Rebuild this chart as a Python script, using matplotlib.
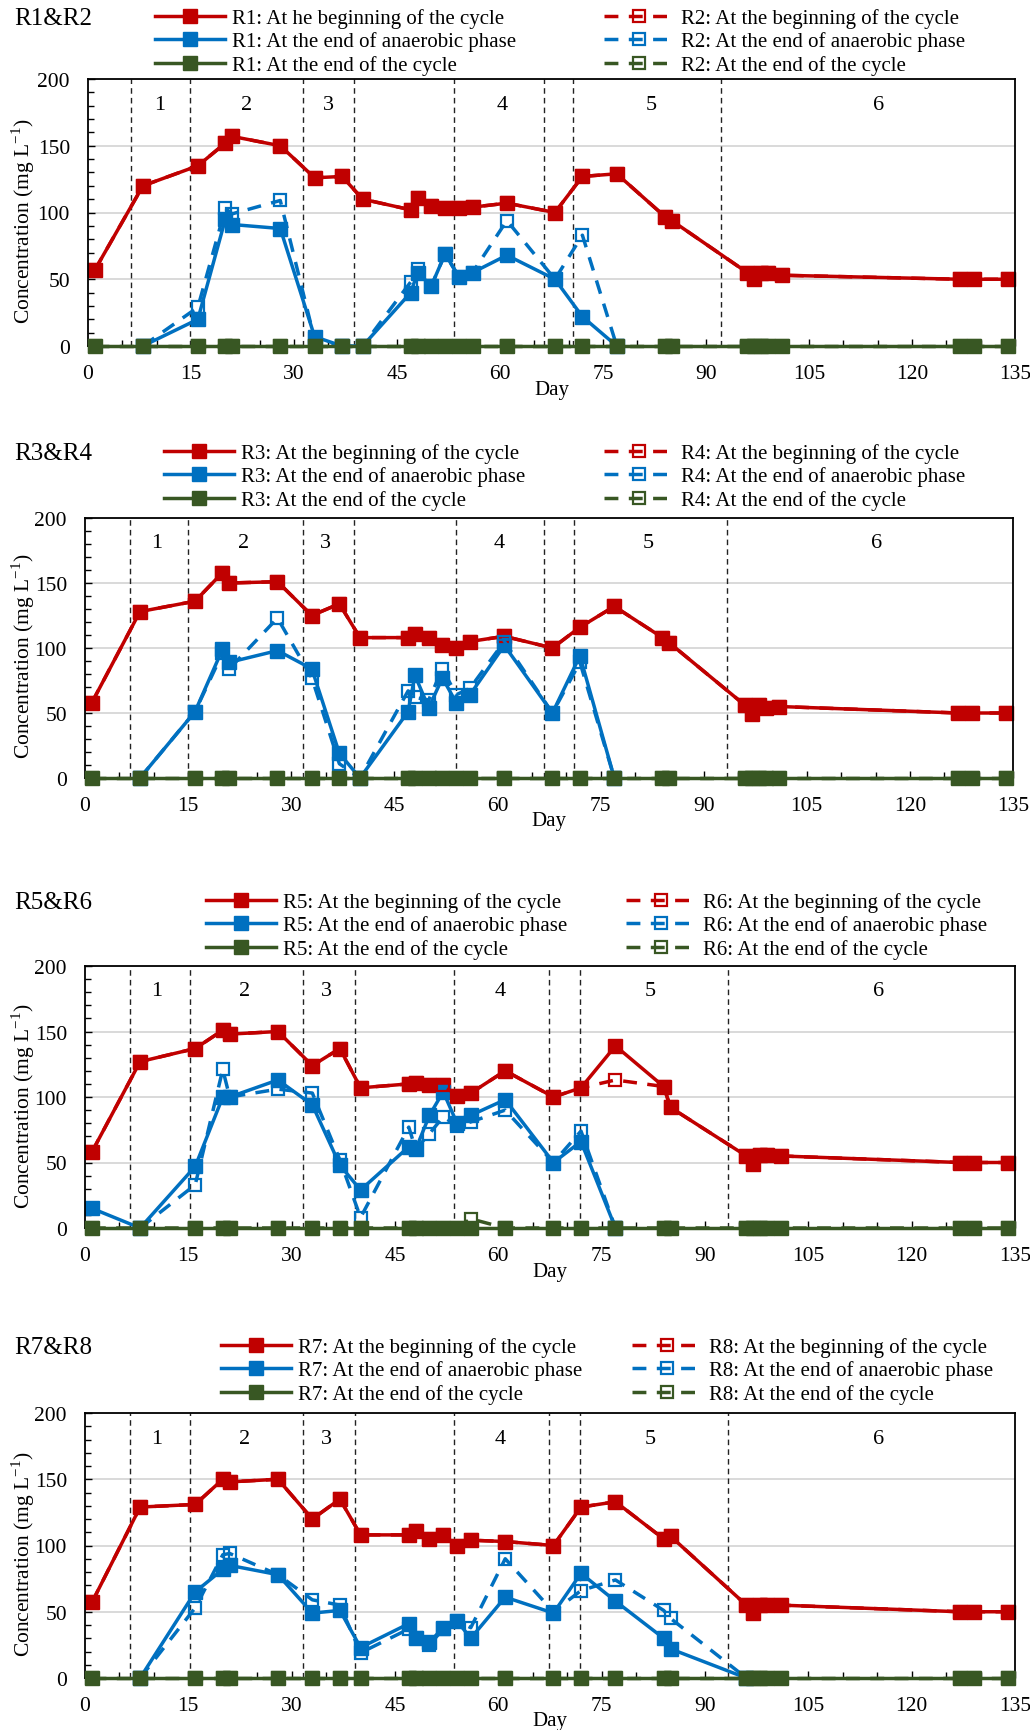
import numpy as np
import matplotlib
matplotlib.use('Agg')
import matplotlib.pyplot as plt
from matplotlib.ticker import MultipleLocator

plt.rcParams['font.family'] = ['Liberation Serif', 'DejaVu Serif']
plt.rcParams['font.size'] = 14

nan = np.nan

# sampling days (same for every reactor)
days = [1, 8, 16, 20, 21, 28, 33, 37, 40, 47, 48, 50, 52, 54, 56, 61, 68, 72, 77,
        84, 85, 96, 97, 98, 99, 101, 127, 129, 134]

# R1 & R2
r1_begin = [57, 120, 135, 152, 157, 150, 126, 127, 110, 102, 111, 105, 103, 103, 104, 107, 100, 127, 129,
            97, 94, 55, 50, 55, 55, 53, 50, 50, 50]
r1_anaer = [nan, 0, 20, 95, 91, 88, 7, 0, 0, 40, 55, 45, 69, 52, 55, 68, 50, 22, 0,
            nan, nan, nan, nan, nan, nan, nan, nan, nan, nan]
r1_end = [0] * 29
r2_begin = [57, 120, 135, 152, 157, 150, 126, 127, 110, 102, 111, 105, 103, 103, 104, 107, 100, 127, 129,
            97, 94, 55, 50, 55, 55, 53, 50, 50, 50]
r2_anaer = [nan, 0, 29, 103, 99, 109, 5, 0, 0, 48, 58, 45, 69, 52, 55, 94, 50, 83, 0,
            nan, nan, nan, nan, nan, nan, nan, nan, nan, nan]
r2_end = [0] * 29

# R3 & R4
r3_begin = [58, 128, 136, 158, 150, 151, 125, 134, 108, 108, 111, 108, 102, 100, 105, 109, 100, 116, 132,
            108, 104, 56, 49, 56, 54, 55, 50, 50, 50]
r3_anaer = [nan, 0, 51, 99, 89, 98, 84, 19, 0, 51, 79, 54, 77, 58, 64, 102, 50, 94, 0,
            nan, nan, nan, nan, nan, nan, nan, nan, nan, nan]
r3_end = [0] * 29
r4_begin = [58, 128, 136, 158, 150, 151, 125, 134, 108, 108, 111, 108, 102, 100, 105, 109, 100, 116, 132,
            108, 104, 56, 49, 56, 54, 55, 50, 50, 50]
r4_anaer = [nan, 0, 51, 96, 84, 123, 77, 11, 0, 67, 62, 60, 84, 64, 69, 105, 50, 89, 0,
            nan, nan, nan, nan, nan, nan, nan, nan, nan, nan]
r4_end = [0] * 29

# R5 & R6
r5_begin = [58, 127, 137, 151, 148, 150, 124, 137, 107, 110, 111, 109, 109, 101, 103, 120, 100, 107, 139,
            108, 92, 55, 49, 56, 56, 55, 50, 50, 50]
r5_anaer = [15, 0, 47, 100, 100, 113, 94, 48, 29, 62, 60, 86, 104, 80, 86, 98, 50, 66, 0,
            nan, nan, nan, nan, nan, nan, nan, nan, nan, nan]
r5_end = [0] * 29
r6_begin = [58, 127, 137, 151, 148, 150, 124, 137, 107, 110, 111, 109, 109, 101, 103, 120, 100, 107, 113,
            108, 92, 55, 49, 56, 56, 55, 50, 50, 50]
r6_anaer = [nan, 0, 33, 121, 100, 106, 103, 52, 8, 77, 60, 72, 85, 78, 81, 90, 50, 74, 0,
            nan, nan, nan, nan, nan, nan, nan, nan, nan, nan]
r6_end = [0, 0, 0, 0, 0, 0, 0, 0, 0, 0, 0, 0, 0, 0, 7, 0, 0, 0, 0,
          0, 0, 0, 0, 0, 0, 0, 0, 0, 0]

# R7 & R8
r7_begin = [57, 129, 131, 150, 148, 150, 120, 135, 108, 108, 111, 105, 108, 100, 104, 103, 100, 129, 133,
            105, 107, 55, 49, 55, 55, 55, 50, 50, 50]
r7_anaer = [nan, 0, 65, 82, 85, 78, 49, 51, 23, 41, 30, 27, 38, 43, 30, 61, 49, 79, 58,
            30, 22, 0, nan, nan, nan, nan, nan, nan, nan]
r7_end = [0] * 29
r8_begin = [57, 129, 131, 150, 148, 150, 120, 135, 108, 108, 111, 105, 108, 100, 104, 103, 100, 129, 133,
            105, 107, 55, 49, 55, 55, 55, 50, 50, 50]
r8_anaer = [nan, 0, 53, 93, 94, 78, 59, 55, 19, 37, 30, 25, 37, 43, 38, 90, 50, 66, 74,
            51, 45, 0, nan, nan, nan, nan, nan, nan, nan]
r8_end = [0] * 29

# phase boundaries (day) and phase labels
bounds_12 = [6.3, 14.8, 31.3, 38.8, 53.3, 66.4, 70.7, 92.2]
bounds_34 = [6.6, 15.0, 31.7, 39.2, 54.0, 66.7, 71.1, 93.4]
bounds_56 = [6.6, 15.2, 31.7, 39.2, 53.6, 67.4, 71.8, 93.3]
bounds_78 = [6.6, 15.2, 31.7, 39.2, 53.6, 67.4, 71.8, 93.4]
phase_names = ['1', '2', '3', '4', '5', '6']
phase_x = [10.4, 23.1, 35.0, 60.3, 82.0, 115.2]

RED = '#C00000'
BLUE = '#0070C0'
GREEN = '#385723'

W, H = 1030, 1731
fig = plt.figure(figsize=(W / 100, H / 100), dpi=100)


def plot_series(ax, y, color, dashed, z):
    x = np.array(days, float)
    y = np.array(y, float)
    m = ~np.isnan(y)
    if dashed:
        ln, = ax.plot(x[m], y[m], color=color, lw=2.5, ls=(0, (4, 3)), marker='s', ms=8.5,
                      mfc='none', mec=color, mew=1.6, zorder=z, clip_on=False)
    else:
        ln, = ax.plot(x[m], y[m], color=color, lw=2.5, marker='s', ms=9.5,
                      zorder=z, clip_on=False)
    return ln


def draw_panel(box, names, odd, even, bounds, first_label, title_y, leg_x):
    left, top, right, bottom = box
    ax = fig.add_axes([left / W, 1 - bottom / H, (right - left) / W, (bottom - top) / H])
    ax.set_xlim(0, 135)
    ax.set_ylim(0, 200)
    ax.xaxis.set_major_locator(MultipleLocator(15))
    ax.xaxis.set_minor_locator(MultipleLocator(5))
    ax.yaxis.set_major_locator(MultipleLocator(50))
    ax.yaxis.set_minor_locator(MultipleLocator(10))
    ax.tick_params(which='both', direction='in', labelsize=15.5, pad=13)
    ax.tick_params(which='major', length=5, width=1)
    ax.tick_params(which='minor', length=4, width=1)
    ax.yaxis.grid(True, color='#d9d9d9', lw=1.4)
    ax.set_axisbelow(True)
    for s in ax.spines.values():
        s.set_linewidth(1.3)

    for b in bounds:
        ax.axvline(b, color='#222222', lw=1, ls=(0, (4, 3)), zorder=1.5)
    for nm, px in zip(phase_names, phase_x):
        ax.text(px, 181, nm, ha='center', va='center', fontsize=16)

    h = []
    h.append(plot_series(ax, odd[0], RED, False, 2.0))
    h.append(plot_series(ax, odd[1], BLUE, False, 2.1))
    h.append(plot_series(ax, odd[2], GREEN, False, 3.0))
    h.append(plot_series(ax, even[0], RED, True, 2.2))
    h.append(plot_series(ax, even[1], BLUE, True, 2.3))
    h.append(plot_series(ax, even[2], GREEN, True, 3.1))

    a, b = names
    labels_a = [a + ': ' + first_label, a + ': At the end of anaerobic phase', a + ': At the end of the cycle']
    labels_b = [b + ': At the beginning of the cycle', b + ': At the end of anaerobic phase',
                b + ': At the end of the cycle']
    opts = dict(loc='upper left', bbox_transform=fig.transFigure, frameon=False, fontsize=15,
                handlelength=3.35, handletextpad=0.35, labelspacing=0.17, borderpad=0,
                borderaxespad=0, numpoints=1)
    leg1 = ax.legend(h[:3], labels_a, bbox_to_anchor=(leg_x[0] / W, 1 - (title_y - 10) / H), **opts)
    ax.add_artist(leg1)
    ax.legend(h[3:], labels_b, bbox_to_anchor=(leg_x[1] / W, 1 - (title_y - 10) / H), **opts)

    fig.text(14 / W, 1 - title_y / H, a + '&' + b, fontsize=18, va='center', ha='left')

    hpx = bottom - top
    wpx = right - left
    ax.set_xlabel('Day', fontsize=15)
    ax.xaxis.label.set_va('center')
    ax.xaxis.set_label_coords(0.5, -43 / hpx)
    ax.set_ylabel('Concentration (mg L$^{\\mathregular{-1}}$)', fontsize=15.5)
    ax.yaxis.label.set_va('center')
    ax.yaxis.set_label_coords((23 - left) / wpx, 0.47)
    return ax


draw_panel((88, 80, 1015, 347), ('R1', 'R2'), (r1_begin, r1_anaer, r1_end), (r2_begin, r2_anaer, r2_end),
           bounds_12, 'At he beginning of the cycle', 19, (155, 604))
draw_panel((85, 519, 1013, 779), ('R3', 'R4'), (r3_begin, r3_anaer, r3_end), (r4_begin, r4_anaer, r4_end),
           bounds_34, 'At the beginning of the cycle', 454, (164, 604))
draw_panel((85, 967, 1015, 1229), ('R5', 'R6'), (r5_begin, r5_anaer, r5_end), (r6_begin, r6_anaer, r6_end),
           bounds_56, 'At the beginning of the cycle', 903, (206, 626))
draw_panel((85, 1414, 1015, 1679), ('R7', 'R8'), (r7_begin, r7_anaer, r7_end), (r8_begin, r8_anaer, r8_end),
           bounds_78, 'At the beginning of the cycle', 1348, (221, 632))

plt.savefig('out.png', dpi=100)
